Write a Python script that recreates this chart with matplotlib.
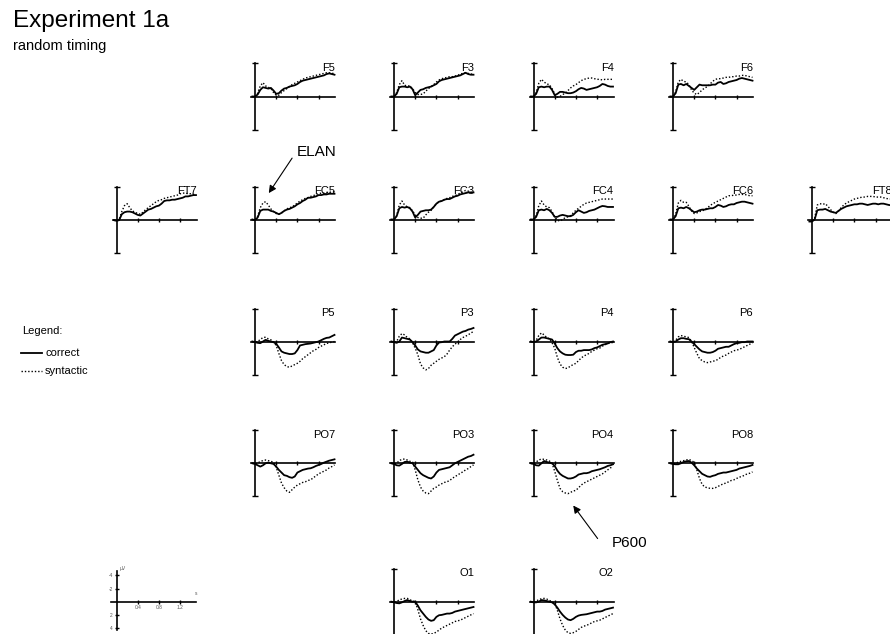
import matplotlib
matplotlib.use("Agg")
import matplotlib.pyplot as plt

plt.rcParams['font.family'] = ['Liberation Sans', 'DejaVu Sans']

# sample times (s) shared by every waveform
times = [-0.05, 0.0, 0.05, 0.1, 0.15, 0.2, 0.25, 0.3,
         0.35, 0.4, 0.45, 0.5, 0.55, 0.6, 0.65, 0.7,
         0.75, 0.8, 0.85, 0.9, 0.95, 1.0, 1.05, 1.1,
         1.15, 1.2, 1.25, 1.3, 1.35, 1.4, 1.45, 1.5]

# grand averages in microvolts (negative plotted up)
f5_correct = [0, 0, -0.3, -1.0, -1.4, -1.3, -1.2, -1.3, -0.9, -0.4, -0.5, -0.9, -1.2, -1.3, -1.5, -1.6,
              -1.7, -1.9, -2.2, -2.4, -2.5, -2.6, -2.7, -2.8, -2.9, -3.0, -3.1, -3.2, -3.4, -3.5, -3.4, -3.3]
f5_syntactic = [0, 0.1, -0.5, -1.6, -2.1, -1.6, -1.4, -1.2, -0.6, -0.2, -0.2, -0.6, -0.9, -1.2, -1.5, -1.8,
                -2.0, -2.2, -2.4, -2.6, -2.8, -2.9, -3.0, -3.1, -3.2, -3.3, -3.4, -3.5, -3.6, -3.6, -3.5, -3.5]
f3_correct = [0, 0, -0.4, -1.4, -1.5, -1.5, -1.4, -1.5, -1.1, -0.2, -0.6, -1.0, -1.1, -1.3, -1.4, -1.5,
              -1.7, -1.9, -2.3, -2.5, -2.6, -2.7, -2.8, -2.9, -3.0, -3.1, -3.2, -3.4, -3.6, -3.4, -3.3, -3.3]
f3_syntactic = [0, 0.1, -0.6, -1.8, -2.4, -1.7, -1.6, -1.6, -1.2, -0.6, -0.3, -0.3, -0.4, -0.8, -1.2, -1.5,
                -1.8, -2.2, -2.5, -2.7, -2.8, -2.9, -3.0, -3.0, -3.1, -3.2, -3.4, -3.5, -3.6, -3.5, -3.4, -3.4]
f4_correct = [0, 0, -0.4, -1.4, -1.5, -1.4, -1.5, -1.5, -1.0, -0.2, -0.4, -0.7, -0.7, -0.6, -0.5, -0.5,
              -0.6, -0.8, -1.1, -1.3, -1.2, -1.0, -1.1, -1.2, -1.3, -1.4, -1.6, -1.9, -1.8, -1.6, -1.5, -1.5]
f4_syntactic = [0, 0.1, -0.6, -2.0, -2.6, -2.2, -1.9, -1.8, -1.2, -0.4, 0.1, 0.0, -0.3, -0.5, -0.9, -1.3,
                -1.6, -1.8, -2.1, -2.4, -2.6, -2.7, -2.8, -2.8, -2.7, -2.6, -2.6, -2.5, -2.6, -2.6, -2.6, -2.6]
f6_correct = [0, 0, -0.5, -1.8, -1.9, -1.7, -1.9, -1.6, -1.3, -1.0, -1.4, -1.8, -1.7, -1.7, -1.7, -1.7,
              -1.8, -1.8, -2.1, -2.2, -1.9, -2.0, -2.2, -2.3, -2.4, -2.5, -2.7, -2.8, -2.7, -2.6, -2.5, -2.4]
f6_syntactic = [0, 0.1, -0.7, -2.2, -2.6, -2.3, -2.2, -1.8, -1.0, -0.5, -0.3, -0.6, -1.0, -1.3, -1.5, -1.9,
                -2.3, -2.6, -2.7, -2.7, -2.8, -2.9, -2.9, -3.0, -3.0, -3.1, -3.1, -3.2, -3.2, -3.1, -3.0, -2.9]

ft7_correct = [0.1, 0.2, 0.1, -0.8, -1.1, -1.2, -1.2, -1.1, -0.9, -0.7, -0.6, -0.9, -1.2, -1.5, -1.6, -1.8,
               -2.0, -2.1, -2.4, -2.8, -2.9, -2.9, -3.0, -3.0, -3.1, -3.2, -3.3, -3.5, -3.5, -3.6, -3.7, -3.7]
ft7_syntactic = [0.1, 0.2, 0.0, -1.2, -2.1, -2.4, -1.8, -1.3, -1.1, -0.9, -0.8, -1.1, -1.5, -1.8, -2.1, -2.4,
                 -2.7, -2.9, -3.0, -3.2, -3.3, -3.4, -3.5, -3.6, -3.7, -3.9, -4.0, -4.0, -3.9, -3.9, -3.8, -3.8]
fc5_correct = [0, 0.1, -0.3, -1.3, -1.5, -1.5, -1.5, -1.3, -1.2, -1.0, -0.8, -1.0, -1.3, -1.5, -1.6, -1.8,
               -2.0, -2.3, -2.5, -2.8, -3.0, -3.3, -3.3, -3.4, -3.5, -3.7, -3.7, -3.8, -3.8, -3.9, -3.9, -3.9]
fc5_syntactic = [0, 0.1, -0.5, -1.8, -2.5, -2.7, -2.2, -1.6, -1.2, -0.9, -0.8, -1.0, -1.3, -1.6, -1.8, -1.9,
                 -2.2, -2.5, -2.8, -3.0, -3.2, -3.3, -3.5, -3.6, -3.8, -3.9, -4.0, -4.0, -4.1, -4.1, -4.2, -4.2]
fc3_correct = [0, 0, -0.5, -1.7, -1.9, -1.8, -1.9, -1.7, -1.2, -0.3, -0.7, -1.2, -1.3, -1.4, -1.4, -1.5,
               -1.9, -2.4, -2.7, -2.8, -3.0, -3.1, -3.1, -3.3, -3.5, -3.6, -3.8, -3.9, -4.0, -4.1, -4.1, -4.1]
fc3_syntactic = [0, 0.1, -0.6, -2.2, -2.8, -2.2, -1.9, -1.8, -1.3, -0.7, -0.3, -0.2, -0.2, -0.7, -1.1, -1.4,
                 -1.9, -2.4, -2.7, -2.8, -3.0, -3.2, -3.3, -3.5, -3.6, -3.8, -4.0, -4.2, -4.4, -4.3, -4.1, -4.1]
fc4_correct = [0, 0, -0.4, -1.4, -1.5, -1.4, -1.6, -1.4, -1.0, -0.4, -0.4, -0.6, -0.7, -0.6, -0.5, -0.5,
               -0.7, -1.1, -1.4, -1.2, -1.0, -1.1, -1.3, -1.4, -1.5, -1.7, -1.9, -2.05, -2.0, -1.9, -1.9, -1.9]
fc4_syntactic = [0, 0.1, -0.6, -2.1, -2.8, -2.2, -1.9, -1.8, -1.2, -0.4, 0.1, 0.25, 0.0, -0.3, -0.4, -0.6,
                 -1.0, -1.4, -1.7, -2.0, -2.3, -2.5, -2.6, -2.7, -2.8, -2.9, -3.0, -3.1, -3.1, -3.1, -3.1, -3.1]
fc6_correct = [0, 0, -0.5, -1.7, -1.8, -1.7, -1.9, -1.7, -1.4, -1.1, -1.2, -1.4, -1.5, -1.5, -1.6, -1.7,
               -1.7, -1.9, -2.2, -2.1, -1.9, -2.0, -2.2, -2.3, -2.3, -2.5, -2.6, -2.7, -2.7, -2.6, -2.5, -2.4]
fc6_syntactic = [0, 0.1, -0.8, -2.5, -2.9, -2.6, -2.6, -2.0, -1.3, -0.9, -1.0, -1.2, -1.3, -1.5, -1.8, -2.1,
                 -2.4, -2.6, -2.8, -3.0, -3.2, -3.4, -3.6, -3.6, -3.7, -3.7, -3.8, -3.8, -3.8, -3.7, -3.6, -3.6]
ft8_correct = [0.3, 0.3, 0.0, -1.4, -1.5, -1.5, -1.6, -1.4, -1.2, -1.1, -1.0, -1.3, -1.6, -1.8, -2.0, -2.1,
               -2.2, -2.3, -2.3, -2.4, -2.4, -2.3, -2.2, -2.3, -2.4, -2.4, -2.3, -2.4, -2.4, -2.3, -2.2, -2.15]
ft8_syntactic = [0.3, 0.3, -0.2, -2.2, -2.4, -2.3, -2.4, -2.0, -1.5, -1.1, -0.9, -1.3, -1.8, -2.2, -2.5, -2.7,
                 -2.9, -3.1, -3.2, -3.3, -3.4, -3.4, -3.5, -3.5, -3.5, -3.4, -3.4, -3.4, -3.3, -3.2, -3.1, -3.1]

p5_correct = [0, 0.1, 0.2, 0.25, 0.0, -0.25, -0.1, 0.0, 0.1, 0.35, 0.9, 1.5, 1.7, 1.8, 1.9, 1.9,
              1.8, 1.3, 0.6, 0.5, 0.4, 0.35, 0.3, 0.2, 0.1, 0.0, -0.2, -0.4, -0.55, -0.6, -0.8, -1.0]
p5_syntactic = [0, 0.1, 0.0, -0.3, -0.6, -0.65, -0.4, -0.25, 0.1, 0.6, 1.8, 2.9, 3.5, 3.8, 3.9, 3.7,
                3.5, 3.3, 3.0, 2.6, 2.3, 2.0, 1.7, 1.4, 1.2, 0.9, 0.7, 0.5, 0.3, 0.2, 0.1, 0.0]
p3_correct = [0, 0.1, 0.2, 0.0, -0.6, -0.5, -0.4, -0.3, 0.1, 0.6, 1.2, 1.5, 1.6, 1.7, 1.7, 1.5,
              1.3, 0.6, 0.15, 0.1, 0.0, 0.0, 0.0, -0.4, -0.9, -1.1, -1.3, -1.5, -1.6, -1.8, -1.9, -2.05]
p3_syntactic = [0, 0.1, 0.0, -0.8, -1.2, -1.0, -0.6, -0.4, 0.2, 1.0, 2.0, 3.4, 4.0, 4.3, 4.1, 3.6,
                3.3, 3.0, 2.7, 2.5, 2.3, 1.9, 1.3, 0.8, 0.4, 0.1, -0.3, -0.6, -0.8, -1.0, -1.3, -1.5]
p4_correct = [0, 0.1, 0.0, -0.3, -0.6, -0.6, -0.5, -0.4, -0.3, 0.3, 1.0, 1.5, 1.8, 2.0, 2.05, 2.05,
              2.0, 1.6, 1.4, 1.4, 1.3, 1.3, 1.3, 1.2, 1.0, 0.9, 0.7, 0.5, 0.4, 0.3, 0.1, 0.0]
p4_syntactic = [0, 0.1, -0.2, -0.9, -1.3, -1.0, -0.6, -0.4, 0.2, 1.0, 2.4, 3.4, 3.9, 4.1, 4.0, 3.7,
                3.5, 3.3, 2.9, 2.5, 2.2, 2.0, 1.8, 1.5, 1.3, 1.1, 1.0, 0.7, 0.5, 0.3, 0.2, 0.15]
p6_correct = [0, 0.1, 0.0, -0.3, -0.5, -0.5, -0.4, -0.35, 0.0, 0.4, 0.8, 1.2, 1.5, 1.6, 1.7, 1.7,
              1.6, 1.4, 1.1, 1.0, 0.9, 0.8, 0.8, 0.6, 0.4, 0.25, 0.2, 0.1, 0.1, 0.0, 0.0, 0.0]
p6_syntactic = [0, 0.1, -0.2, -0.7, -0.9, -0.8, -0.7, -0.6, 0.0, 0.9, 1.8, 2.6, 2.9, 3.1, 3.2, 3.1,
                3.0, 2.9, 2.7, 2.4, 2.2, 2.05, 1.8, 1.6, 1.4, 1.3, 1.2, 1.0, 0.8, 0.6, 0.4, 0.25]

po7_correct = [0, 0.1, 0.3, 0.5, 0.3, 0.0, -0.1, 0.0, 0.1, 0.5, 1.0, 1.4, 1.8, 1.9, 2.1, 2.2,
               2.0, 1.4, 1.2, 1.0, 0.9, 0.8, 0.75, 0.6, 0.4, 0.25, 0.1, -0.1, -0.25, -0.4, -0.5, -0.6]
po7_syntactic = [0, 0.1, 0.0, -0.3, -0.4, -0.5, -0.4, -0.3, -0.15, 0.6, 1.8, 3.0, 3.7, 4.2, 4.4, 4.0,
                 3.6, 3.3, 3.1, 2.9, 2.8, 2.6, 2.5, 2.2, 1.9, 1.6, 1.4, 1.2, 1.0, 0.7, 0.5, 0.25]
po3_correct = [0, 0.1, 0.3, 0.35, 0.1, -0.2, -0.25, -0.1, 0.0, 0.5, 1.0, 1.5, 1.8, 2.0, 2.2, 2.3,
               2.0, 1.4, 1.0, 0.9, 0.8, 0.7, 0.6, 0.3, 0.0, -0.2, -0.4, -0.6, -0.8, -1.0, -1.1, -1.3]
po3_syntactic = [0, 0.1, 0.0, -0.4, -0.6, -0.65, -0.5, -0.3, -0.2, 1.0, 2.5, 3.6, 4.2, 4.5, 4.6, 4.2,
                 3.8, 3.6, 3.3, 3.1, 2.9, 2.8, 2.6, 2.3, 2.0, 1.8, 1.5, 1.3, 1.0, 0.8, 0.5, 0.25]
po4_correct = [0, 0.1, 0.3, 0.35, 0.0, -0.35, -0.2, -0.1, 0.0, 0.4, 1.1, 1.6, 1.9, 2.1, 2.3, 2.3,
               2.2, 2.0, 1.7, 1.6, 1.5, 1.5, 1.4, 1.2, 1.1, 1.0, 0.9, 0.75, 0.6, 0.4, 0.3, 0.15]
po4_syntactic = [0, 0.1, -0.2, -0.5, -0.65, -0.6, -0.5, -0.35, 0.0, 1.2, 2.6, 3.8, 4.3, 4.5, 4.6, 4.4,
                 4.2, 4.1, 3.7, 3.3, 3.0, 2.8, 2.6, 2.4, 2.2, 2.0, 1.8, 1.6, 1.3, 1.0, 0.7, 0.5]
po8_correct = [0, 0.1, 0.15, 0.15, 0.0, -0.2, -0.3, -0.35, -0.1, 0.3, 0.8, 1.2, 1.6, 1.8, 2.0, 2.05,
               1.9, 1.8, 1.6, 1.5, 1.4, 1.4, 1.3, 1.2, 1.1, 1.0, 0.8, 0.7, 0.6, 0.5, 0.4, 0.25]
po8_syntactic = [0, 0.1, 0.0, -0.2, -0.3, -0.4, -0.5, -0.6, -0.4, -0.15, 1.0, 2.3, 3.2, 3.6, 3.7, 3.8,
                 3.8, 3.7, 3.5, 3.3, 3.1, 3.0, 2.8, 2.6, 2.5, 2.3, 2.1, 2.0, 1.8, 1.6, 1.5, 1.3]

o1_correct = [0, 0.1, 0.2, 0.25, 0.1, -0.1, -0.25, -0.1, 0.0, 0.0, 0.6, 1.3, 1.8, 2.3, 2.7, 2.9,
              2.8, 2.3, 2.05, 2.0, 1.9, 1.8, 1.8, 1.7, 1.5, 1.4, 1.3, 1.2, 1.1, 1.0, 0.9, 0.8]
o1_syntactic = [0, 0.1, 0.0, -0.3, -0.4, -0.5, -0.5, -0.3, -0.1, 0.0, 1.2, 2.6, 3.6, 4.4, 4.8, 4.9,
                4.8, 4.6, 4.3, 4.0, 3.8, 3.6, 3.4, 3.2, 3.0, 2.9, 2.8, 2.6, 2.4, 2.2, 2.0, 1.8]
o2_correct = [0, 0.1, 0.1, 0.0, -0.25, -0.2, -0.1, 0.0, 0.1, 0.4, 0.9, 1.5, 2.0, 2.4, 2.7, 2.8,
              2.6, 2.3, 2.1, 2.0, 1.95, 1.9, 1.8, 1.7, 1.6, 1.5, 1.5, 1.4, 1.2, 1.1, 1.0, 0.9]
o2_syntactic = [0, 0.1, -0.1, -0.3, -0.45, -0.5, -0.4, -0.2, 0.0, 0.25, 1.3, 2.6, 3.6, 4.3, 4.7, 4.8,
                4.7, 4.5, 4.2, 3.9, 3.7, 3.6, 3.4, 3.2, 3.0, 2.9, 2.8, 2.6, 2.4, 2.2, 2.0, 1.8]

# electrode name, grid column, grid row, waveforms
panels = [
    ("F5", 1, 0, f5_correct, f5_syntactic),
    ("F3", 2, 0, f3_correct, f3_syntactic),
    ("F4", 3, 0, f4_correct, f4_syntactic),
    ("F6", 4, 0, f6_correct, f6_syntactic),
    ("FT7", 0, 1, ft7_correct, ft7_syntactic),
    ("FC5", 1, 1, fc5_correct, fc5_syntactic),
    ("FC3", 2, 1, fc3_correct, fc3_syntactic),
    ("FC4", 3, 1, fc4_correct, fc4_syntactic),
    ("FC6", 4, 1, fc6_correct, fc6_syntactic),
    ("FT8", 5, 1, ft8_correct, ft8_syntactic),
    ("P5", 1, 2, p5_correct, p5_syntactic),
    ("P3", 2, 2, p3_correct, p3_syntactic),
    ("P4", 3, 2, p4_correct, p4_syntactic),
    ("P6", 4, 2, p6_correct, p6_syntactic),
    ("PO7", 1, 3, po7_correct, po7_syntactic),
    ("PO3", 2, 3, po3_correct, po3_syntactic),
    ("PO4", 3, 3, po4_correct, po4_syntactic),
    ("PO8", 4, 3, po8_correct, po8_syntactic),
    ("O1", 2, 4, o1_correct, o1_syntactic),
    ("O2", 3, 4, o2_correct, o2_syntactic),
]

W, H = 890, 634
COL_X = [116.5, 255, 394, 533.5, 673, 812]      # pixel x of each time-zero axis
ROW_Y = [96.5, 219.5, 341.5, 463.3, 601.7]      # pixel y of each zero line
PX_S, PX_UV = 53.0, 6.6                          # pixels per second / per microvolt
XL, YL = (-0.2, 1.6), 5.6

fig = plt.figure(figsize=(W / 100, H / 100), dpi=100)


def make_axes(col, row):
    x0, y0 = COL_X[col], ROW_Y[row]
    left = (x0 + XL[0] * PX_S) / W
    bottom = 1 - (y0 + YL * PX_UV) / H
    ax = fig.add_axes([left, bottom, (XL[1] - XL[0]) * PX_S / W, 2 * YL * PX_UV / H])
    ax.set_xlim(*XL)
    ax.set_ylim(YL, -YL)
    ax.patch.set_visible(False)
    for s in ("top", "right"):
        ax.spines[s].set_visible(False)
    for s in ("left", "bottom"):
        ax.spines[s].set_position(("data", 0))
        ax.spines[s].set_linewidth(1.2)
    ax.set_xticks([0.4, 0.8, 1.2])
    ax.tick_params(direction="inout", length=3.5, width=1.0)
    return ax


for name, col, row, correct, syntactic in panels:
    ax = make_axes(col, row)
    ax.spines["left"].set_bounds(-5, 5)
    ax.spines["bottom"].set_bounds(-0.07, 1.51)
    ax.set_yticks([-5, 5])
    ax.tick_params(labelbottom=False, labelleft=False)
    ax.tick_params(axis="y", length=4.5)
    ax.plot(times, correct, color="black", lw=1.3, solid_joinstyle="round")
    ax.plot(times, syntactic, color="black", lw=1.0, ls=(0, (1, 1.4)))
    ax.text(1.51, -4.3, name, ha="right", va="center", fontsize=8)
    if name == "FC5":
        ax.annotate("", xy=(0.26, -4.0), xytext=(0.70, -9.3), annotation_clip=False,
                    arrowprops=dict(arrowstyle="-|>", color="black", lw=0.8,
                                    mutation_scale=11, shrinkA=0, shrinkB=0))
        ax.text(0.78, -10.2, "ELAN", ha="left", va="center", fontsize=11, clip_on=False)
    if name == "PO4":
        ax.annotate("", xy=(0.75, 6.4), xytext=(1.21, 11.4), annotation_clip=False,
                    arrowprops=dict(arrowstyle="-|>", color="black", lw=0.8,
                                    mutation_scale=11, shrinkA=0, shrinkB=0))
        ax.text(1.47, 12.1, "P600", ha="left", va="center", fontsize=11, clip_on=False)

# calibration axes
cal = make_axes(0, 4)
cal.spines["left"].set_bounds(-4.7, 4.3)
cal.spines["bottom"].set_bounds(-0.1, 1.5)
cal.set_yticks([-4, -2, 2, 4])
cal.set_xticklabels(["0.4", "0.8", "1.2"])
cal.set_yticklabels(["-4", "-2", "2", "4"])
cal.tick_params(labelsize=3.5, pad=1, length=3, colors="black", labelcolor="#555555")
cal.text(0.06, -4.7, "µV", fontsize=3.5, color="#555555", va="bottom")
cal.text(1.5, -0.8, "s", fontsize=3.5, color="#555555", ha="center", va="bottom")

# titles and legend
fig.text(13 / W, 1 - 27 / H, "Experiment 1a", fontsize=17.5, va="baseline")
fig.text(13 / W, 1 - 50 / H, "random timing", fontsize=10.5, va="baseline")
fig.text(22 / W, 1 - 334 / H, "Legend:", fontsize=8, va="baseline")
fig.add_artist(plt.Line2D([21 / W, 42 / W], [1 - 352.5 / H] * 2, color="black", lw=1.3))
fig.text(45 / W, 1 - 356 / H, "correct", fontsize=8, va="baseline")
fig.add_artist(plt.Line2D([21 / W, 42 / W], [1 - 370.5 / H] * 2, color="black", lw=1.0,
                          ls=(0, (1, 1.4))))
fig.text(45 / W, 1 - 373.5 / H, "syntactic", fontsize=8, va="baseline")

fig.savefig("out.png", dpi=100)
